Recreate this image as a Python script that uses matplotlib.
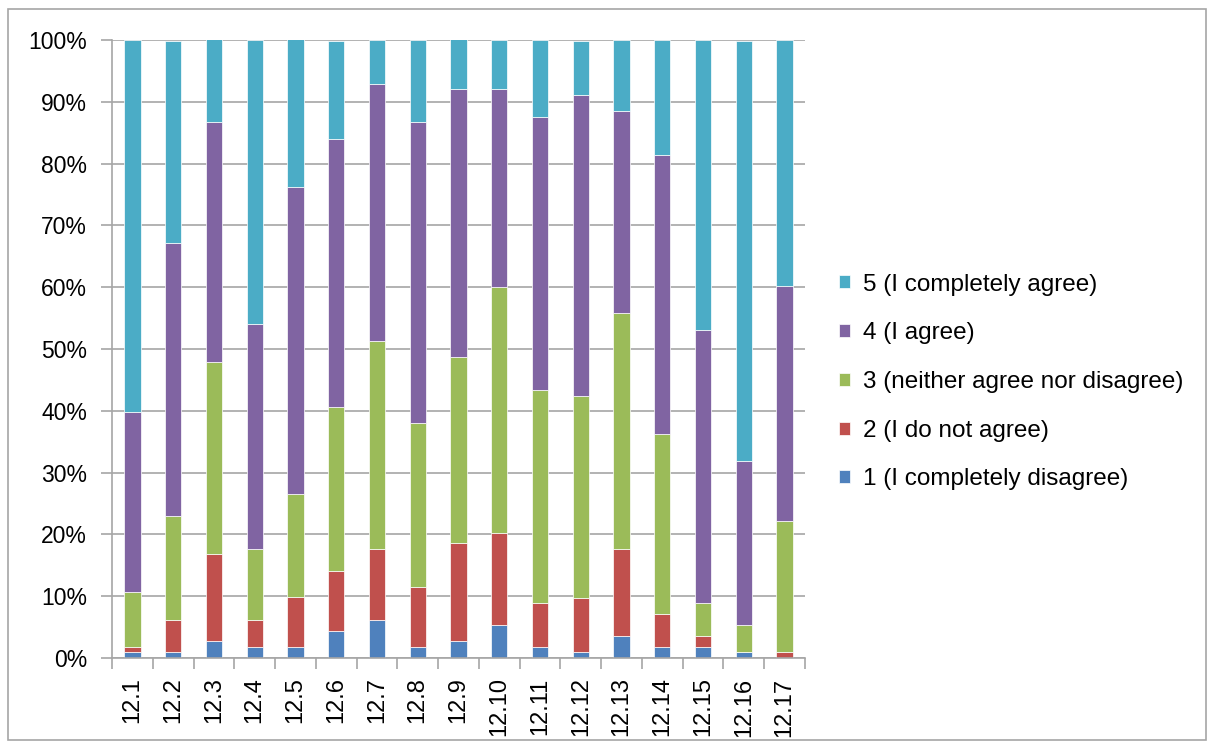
import matplotlib.pyplot as plt
import numpy as np
from matplotlib.ticker import PercentFormatter

# items 12.1 .. 12.17
items = ["12.1", "12.2", "12.3", "12.4", "12.5", "12.6", "12.7", "12.8", "12.9",
         "12.10", "12.11", "12.12", "12.13", "12.14", "12.15", "12.16", "12.17"]

# share of answers (%)
disagree_full = [0.9, 0.9, 2.7, 1.8, 1.8, 4.4, 6.2, 1.8, 2.7, 5.3, 1.8, 0.9, 3.5, 1.8, 1.8, 0.9, 0.0]
not_agree = [0.9, 5.3, 14.2, 4.4, 8.0, 9.7, 11.5, 9.7, 15.9, 15.0, 7.1, 8.8, 14.2, 5.3, 1.8, 0.0, 0.9]
neutral = [8.8, 16.8, 31.0, 11.5, 16.8, 26.5, 33.6, 26.5, 30.1, 39.8, 34.5, 32.7, 38.1, 29.2, 5.3, 4.4, 21.2]
agree = [29.2, 44.2, 38.9, 36.3, 49.6, 43.4, 41.6, 48.7, 43.4, 31.9, 44.2, 48.7, 32.7, 45.1, 44.2, 26.5, 38.1]
agree_full = [60.2, 32.7, 13.3, 46.0, 23.9, 15.9, 7.1, 13.3, 8.0, 8.0, 12.4, 8.8, 11.5, 18.6, 46.9, 68.1, 39.8]

series = [
    ("1 (I completely disagree)", disagree_full, "#4F81BD"),
    ("2 (I do not agree)", not_agree, "#C0504D"),
    ("3 (neither agree nor disagree)", neutral, "#9BBB59"),
    ("4 (I agree)", agree, "#8064A2"),
    ("5 (I completely agree)", agree_full, "#4BACC6"),
]

plt.rcParams['font.family'] = ['Liberation Sans', 'DejaVu Sans']

fig = plt.figure(figsize=(12.11, 7.46), dpi=100)
ax = fig.add_axes([112 / 1211, 1 - 658 / 746, 693 / 1211, 618 / 746])

x = np.arange(len(items))
bottom = np.zeros(len(items))
handles = []
for label, vals, col in series:
    vals = np.array(vals)
    b = ax.bar(x, vals, 0.4, bottom=bottom, color=col, edgecolor="white",
               linewidth=0.5, label=label, zorder=3)
    handles.append(b)
    bottom += vals

ax.set_xlim(-0.5, len(items) - 0.5)
ax.set_ylim(0, 100)
ax.set_yticks(np.arange(0, 101, 10))
ax.yaxis.set_major_formatter(PercentFormatter(decimals=0))
ax.grid(axis="y", color="#a6a6a6", linewidth=1.2, zorder=0)

ax.set_xticks(x)
ax.set_xticklabels(items, rotation=90, fontsize=17)
ax.set_xticks(np.arange(-0.5, len(items), 1), minor=True)
ax.tick_params(axis="x", which="major", length=0, pad=14)
ax.tick_params(axis="x", which="minor", length=8, width=1.2, color="#a6a6a6")
ax.tick_params(axis="y", length=8, width=1.2, color="#a6a6a6", labelsize=16.5, pad=10)

for s in ["top", "right"]:
    ax.spines[s].set_visible(False)
for s in ["left", "bottom"]:
    ax.spines[s].set_color("#a6a6a6")
    ax.spines[s].set_linewidth(1.2)
ax.spines["bottom"].set_zorder(4)

leg = fig.legend(handles[::-1], [s[0] for s in series][::-1],
                 loc="center left", bbox_to_anchor=(817 / 1211, 1 - 382 / 746),
                 frameon=False, fontsize=17.5, handlelength=0.45, handleheight=0.45,
                 labelspacing=1.1, handletextpad=0.55)

# outer chart frame
fig.patches.append(plt.Rectangle((8 / 1211, 6 / 746), 1198 / 1211, 731 / 746,
                                 transform=fig.transFigure, fill=False,
                                 edgecolor="#a6a6a6", linewidth=1.2))

fig.savefig("out.png", dpi=100)
